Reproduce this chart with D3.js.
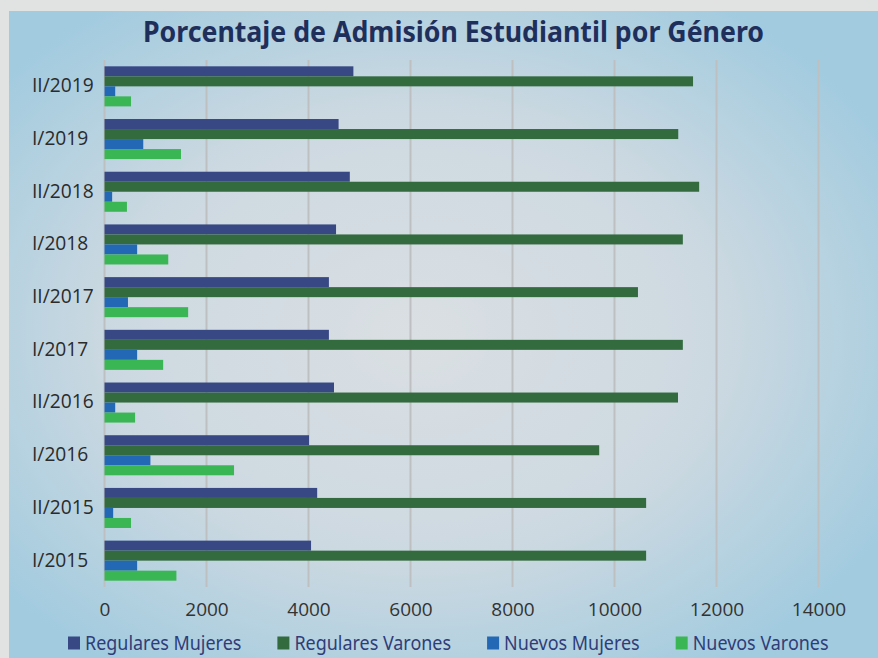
<!DOCTYPE html>
<html>
<head>
<meta charset="utf-8">
<script src="https://cdn.jsdelivr.net/npm/d3@7"></script>
<style>
  html, body { margin: 0; padding: 0; background: #e1e3e2; }
  svg { display: block; }
</style>
</head>
<body>
<div id="graph"></div>
<script>
"use strict";
(function() {
    // categories, top to bottom as drawn
    const periods = ["II/2019", "I/2019", "II/2018", "I/2018", "II/2017",
                     "I/2017", "II/2016", "I/2016", "II/2015", "I/2015"];
    const seriesNames = ["Regulares Mujeres", "Regulares Varones", "Nuevos Mujeres", "Nuevos Varones"];
    const regularesMujeres = [4880, 4590, 4810, 4540, 4400, 4400, 4500, 4010, 4170, 4050];
    const regularesVarones = [11540, 11250, 11660, 11340, 10460, 11340, 11245, 9700, 10620, 10620];
    const nuevosMujeres    = [210, 760, 150, 640, 460, 640, 210, 900, 170, 640];
    const nuevosVarones    = [520, 1500, 440, 1250, 1640, 1150, 600, 2540, 520, 1410];
    const xTicks = [0, 2000, 4000, 6000, 8000, 10000, 12000, 14000];
    const colors = ["#374884", "#336b3f", "#2268b4", "#3bb654"];

    const width = 878;
    const height = 658;
    const plot = { left: 104.5, right: 818.5, top: 60, bottom: 587 };
    const font = "'Noto Sans', 'DejaVu Sans', sans-serif";
    const labelFont = "'Open Sans', 'Noto Sans', sans-serif";

    window.addEventListener("load", init);

    function init() {
        let svg = d3.select("#graph")
                    .append("svg")
                        .attr("width", width)
                        .attr("height", height);

        drawBackground(svg);

        // title
        svg.append("text")
            .attr("x", 453.5)
            .attr("y", 42)
            .attr("text-anchor", "middle")
            .attr("font-family", font)
            .attr("font-weight", "bold")
            .attr("font-size", 28)
            .attr("fill", "#1f2f5c")
            .attr("textLength", 621)
            .attr("lengthAdjust", "spacingAndGlyphs")
            .text("Porcentaje de Admisión Estudiantil por Género");

        let xScale = d3.scaleLinear()
                        .domain([0, 14000])
                        .range([plot.left, plot.right]);
        let yScale = d3.scaleBand()
                        .domain(periods)
                        .range([plot.top, plot.bottom])
                        .paddingInner(0.24)
                        .paddingOuter(0.12);
        let subScale = d3.scaleBand()
                        .domain(seriesNames)
                        .range([0, yScale.bandwidth()]);

        // grid lines
        svg.append("g")
            .selectAll("line")
            .data(xTicks)
            .enter()
            .append("line")
                .attr("x1", d => xScale(d))
                .attr("x2", d => xScale(d))
                .attr("y1", plot.top)
                .attr("y2", plot.bottom)
                .attr("stroke", "#bdbfc0")
                .attr("stroke-width", 2);

        // x axis labels
        let xAxis = svg.append("g")
            .attr("transform", "translate(0," + (plot.bottom + 29) + ")")
            .call(d3.axisBottom(xScale).tickValues(xTicks).tickSize(0).tickPadding(0).tickFormat(d3.format("d")));
        xAxis.select(".domain").remove();
        xAxis.selectAll("text")
            .attr("dy", 0)
            .attr("font-family", labelFont)
            .attr("font-size", 19)
            .attr("fill", "#333333");

        // y axis labels (left aligned, like the original)
        svg.append("g")
            .selectAll("text")
            .data(periods)
            .enter()
            .append("text")
                .attr("x", 32)
                .attr("y", d => yScale(d) + yScale.bandwidth() / 2 - 1)
                .attr("dy", "0.36em")
                .attr("font-family", labelFont)
                .attr("font-size", 19.2)
                .attr("fill", "#2b2b2b")
                .text(d => d);

        // bars
        let rows = periods.map((p, i) => ({
            period: p,
            values: [regularesMujeres[i], regularesVarones[i], nuevosMujeres[i], nuevosVarones[i]]
        }));
        let groups = svg.append("g")
            .selectAll("g")
            .data(rows)
            .enter()
            .append("g")
                .attr("transform", d => "translate(0," + yScale(d.period) + ")");
        groups.selectAll("rect")
            .data(d => d.values.map((v, k) => ({ name: seriesNames[k], value: v, k: k })))
            .enter()
            .append("rect")
                .attr("x", xScale(0))
                .attr("y", d => subScale(d.name))
                .attr("width", d => xScale(d.value) - xScale(0))
                .attr("height", subScale.bandwidth())
                .attr("fill", d => colors[d.k]);

        drawLegend(svg);
    }

    function drawBackground(svg) {
        let defs = svg.append("defs");
        let grad = defs.append("radialGradient")
            .attr("id", "bg")
            .attr("cx", "0.47")
            .attr("cy", "0.5")
            .attr("r", "0.62");
        grad.append("stop").attr("offset", "0").attr("stop-color", "#dadfe3");
        grad.append("stop").attr("offset", "0.55").attr("stop-color", "#cdd9e1");
        grad.append("stop").attr("offset", "1").attr("stop-color", "#a2cbdf");

        svg.append("rect")
            .attr("width", width)
            .attr("height", height)
            .attr("fill", "#e1e3e2");
        svg.append("rect")
            .attr("x", 9)
            .attr("y", 11)
            .attr("width", width - 9)
            .attr("height", height - 11)
            .attr("fill", "url(#bg)");
    }

    function drawLegend(svg) {
        let legend = svg.append("g").attr("transform", "translate(68,643)");
        let x = 0;
        seriesNames.forEach((name, i) => {
            legend.append("rect")
                .attr("x", x)
                .attr("y", -6.5)
                .attr("width", 12)
                .attr("height", 13)
                .attr("fill", colors[i]);
            let t = legend.append("text")
                .attr("x", x + 17)
                .attr("y", 0)
                .attr("dy", "0.36em")
                .attr("font-family", font)
                .attr("font-size", 19.5)
                .attr("fill", "#2f3d78")
                .text(name);
            let w = t.node().getComputedTextLength() * 0.92;
            t.attr("textLength", w).attr("lengthAdjust", "spacingAndGlyphs");
            x += 17 + w + 36;
        });
    }
})();
</script>
</body>
</html>
